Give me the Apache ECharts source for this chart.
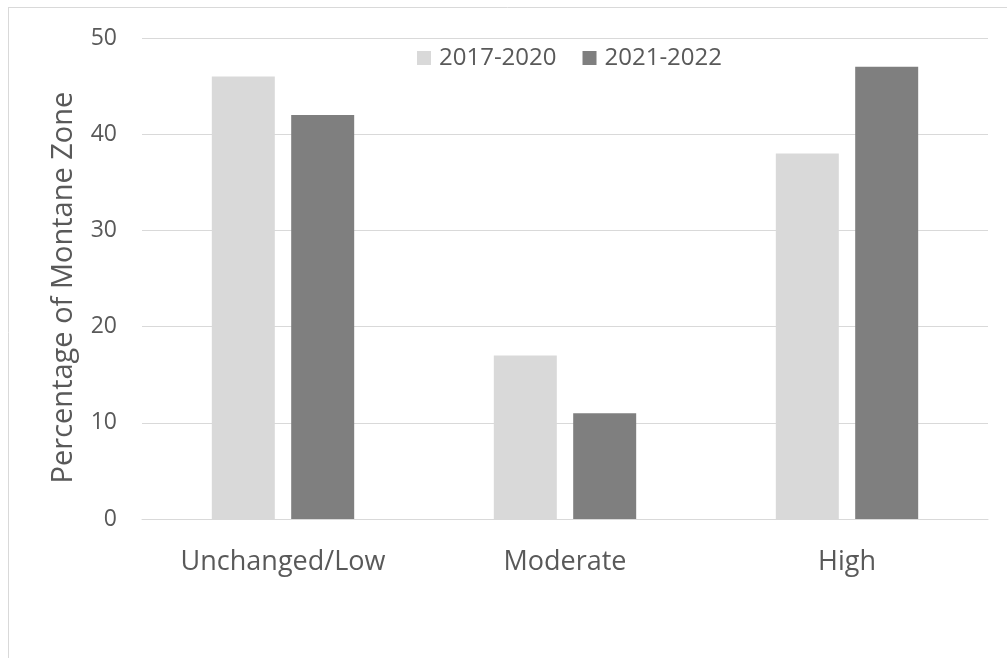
<!DOCTYPE html>
<html>
<head>
<meta charset="utf-8">
<script src="https://cdn.jsdelivr.net/npm/echarts@6/dist/echarts.min.js"></script>
<style>
  html, body { margin: 0; padding: 0; background: #fff; }
  #chart { width: 1007px; height: 658px; }
</style>
</head>
<body>
<div id="chart"></div>
<script>
// Burn severity classes and the share of the montane zone in each
const categories = ['Unchanged/Low', 'Moderate', 'High'];
const period1Name = '2017-2020';
const period2Name = '2021-2022';
const period1Values = [46, 17, 38];
const period2Values = [42, 11, 47];
const yTicks = { min: 0, max: 50, interval: 10 };

const textColor = '#595959';
const fontFamily = '"Open Sans", "Noto Sans", sans-serif';

const chart = echarts.init(document.getElementById('chart'), null, { renderer: 'canvas' });

chart.setOption({
  backgroundColor: '#ffffff',
  animation: false,
  textStyle: { fontFamily: fontFamily, color: textColor },
  graphic: [
    // frame lines along the top and left of the chart area
    { type: 'line', shape: { x1: 8, y1: 7.5, x2: 1007, y2: 7.5 }, style: { stroke: '#d9d9d9', lineWidth: 1 }, silent: true },
    { type: 'line', shape: { x1: 8.5, y1: 7, x2: 8.5, y2: 658 }, style: { stroke: '#d9d9d9', lineWidth: 1 }, silent: true }
  ],
  legend: {
    left: 412,
    top: 41,
    icon: 'rect',
    itemWidth: 14,
    itemHeight: 14,
    itemGap: 26,
    textStyle: { fontSize: 24, color: textColor, fontFamily: fontFamily, padding: [0, 0, 0, 3] },
    data: [period1Name, period2Name]
  },
  grid: { left: 142, right: 19, top: 38, bottom: 139, containLabel: false },
  xAxis: {
    type: 'category',
    data: categories,
    axisLine: { show: true, lineStyle: { color: '#d9d9d9', width: 1 } },
    axisTick: { show: false },
    axisLabel: { fontSize: 27, color: textColor, margin: 30, fontFamily: fontFamily }
  },
  yAxis: {
    type: 'value',
    min: yTicks.min,
    max: yTicks.max,
    interval: yTicks.interval,
    name: 'Percentage of Montane Zone',
    nameLocation: 'middle',
    nameGap: 64,
    nameTextStyle: { fontSize: 29, color: textColor, fontFamily: fontFamily, padding: [0, 18, 0, 0] },
    axisLine: { show: false },
    axisTick: { show: false },
    splitLine: { lineStyle: { color: '#d9d9d9', width: 1 } },
    axisLabel: { fontSize: 23, color: textColor, margin: 25, fontFamily: fontFamily }
  },
  series: [
    {
      name: period1Name,
      type: 'bar',
      data: period1Values,
      barWidth: 63,
      barGap: '26%',
      itemStyle: { color: '#d9d9d9' }
    },
    {
      name: period2Name,
      type: 'bar',
      data: period2Values,
      barWidth: 63,
      itemStyle: { color: '#7f7f7f' }
    }
  ]
});
</script>
</body>
</html>
